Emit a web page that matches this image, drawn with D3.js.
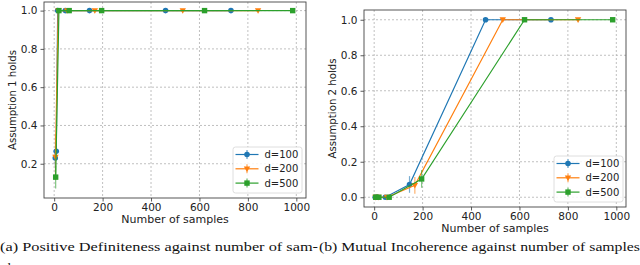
<!DOCTYPE html>
<html>
<head>
<meta charset="utf-8">
<script src="https://cdn.jsdelivr.net/npm/d3@7"></script>
<style>
  body { margin: 0; background: #fff; }
  svg { display: block; }
</style>
</head>
<body>
<div id="chart"></div>
<script>
// sample sizes per dimension (x = k * ln d)
const xs100 = [4.6, 8.5, 14.6, 46, 146, 460, 730];
const xs200 = [5.3, 16.8, 53, 168, 531, 842];
const xs500 = [6.2, 19.6, 62, 196, 621, 985];

// Assumption 1 (positive definiteness)
const a1_100 = [0.23, 0.265, 1, 1, 1, 1, 1];
const a1_200 = [0.235, 1, 1, 1, 1, 1];
const a1_500 = [0.13, 1, 1, 1, 1, 1];
const a1err_100 = [0.04, 0.04, 0, 0, 0, 0, 0];
const a1err_200 = [0.12, 0, 0, 0, 0, 0];
const a1err_500 = [0.06, 0, 0, 0, 0, 0];

// Assumption 2 (mutual incoherence)
const a2_100 = [0, 0, 0, 0, 0.072, 1, 1];
const a2_200 = [0, 0, 0, 0.067, 1, 1];
const a2_500 = [0, 0, 0, 0.103, 1, 1];
const a2err_100 = [0, 0, 0, 0, 0.047, 0, 0];
const a2err_200 = [0, 0, 0, 0.047, 0, 0];
const a2err_500 = [0, 0, 0, 0.05, 0, 0];

const xTicks = [0, 200, 400, 600, 800, 1000];
const y1Ticks = [0.2, 0.4, 0.6, 0.8, 1.0];
const y2Ticks = [0.0, 0.2, 0.4, 0.6, 0.8, 1.0];
const labels = ["d=100", "d=200", "d=500"];
const colors = ["#1f77b4", "#ff7f0e", "#2ca02c"];
const markers = ["circle", "tri", "square"];

const W = 640, H = 265;
const svg = d3.select("#chart").append("svg")
    .attr("width", W).attr("height", H)
    .attr("font-family", "DejaVu Sans, sans-serif");

function marker(g, type, x, y, color) {
    if (type == "circle") {
        g.append("circle").attr("cx", x).attr("cy", y).attr("r", 2.8).attr("fill", color);
    } else if (type == "square") {
        g.append("rect").attr("x", x - 2.7).attr("y", y - 2.7)
            .attr("width", 5.4).attr("height", 5.4).attr("fill", color);
    } else {
        g.append("path")
            .attr("d", "M" + (x - 3.2) + "," + (y - 2.4) + "L" + (x + 3.2) + "," + (y - 2.4) + "L" + x + "," + (y + 3.2) + "Z")
            .attr("fill", color);
    }
}

function drawPanel(opt) {
    const x = d3.scaleLinear().domain([-42, 1040]).range([opt.left, opt.right]);
    const y = d3.scaleLinear().domain(opt.ydom).range([opt.bottom, opt.top]);
    const g = svg.append("g");

    // grid
    g.append("g").selectAll("line").data(xTicks).enter().append("line")
        .attr("x1", d => x(d)).attr("x2", d => x(d))
        .attr("y1", opt.top).attr("y2", opt.bottom)
        .attr("stroke", "#b0b0b0").attr("stroke-width", 0.8).attr("stroke-dasharray", "2,2");
    g.append("g").selectAll("line").data(opt.yticks).enter().append("line")
        .attr("x1", opt.left).attr("x2", opt.right)
        .attr("y1", d => y(d)).attr("y2", d => y(d))
        .attr("stroke", "#b0b0b0").attr("stroke-width", 0.8).attr("stroke-dasharray", "2,2");

    // axes
    const xa = g.append("g").attr("transform", "translate(0," + opt.bottom + ")")
        .call(d3.axisBottom(x).tickValues(xTicks).tickSize(3.5).tickPadding(2).tickFormat(d3.format("d")));
    const ya = g.append("g").attr("transform", "translate(" + opt.left + ",0)")
        .call(d3.axisLeft(y).tickValues(opt.yticks).tickSize(3.5).tickPadding(3).tickFormat(d3.format(".1f")));
    [xa, ya].forEach(a => {
        a.select(".domain").remove();
        a.selectAll("text").attr("font-size", 10.5).attr("fill", "#222").attr("font-family", "DejaVu Sans, sans-serif");
        a.selectAll("line").attr("stroke", "#333").attr("stroke-width", 0.8);
    });

    g.append("rect").attr("x", opt.left).attr("y", opt.top)
        .attr("width", opt.right - opt.left).attr("height", opt.bottom - opt.top)
        .attr("fill", "none").attr("stroke", "#444").attr("stroke-width", 0.9);

    g.append("text").attr("x", (opt.left + opt.right) / 2).attr("y", opt.bottom + 25)
        .attr("text-anchor", "middle").attr("font-size", 11).attr("fill", "#222")
        .text("Number of samples");
    g.append("text")
        .attr("transform", "translate(" + (opt.left - 28) + "," + ((opt.top + opt.bottom) / 2) + ") rotate(-90)")
        .attr("text-anchor", "middle").attr("font-size", 10.2).attr("fill", "#222")
        .text(opt.ylabel);

    // series
    opt.series.forEach((s, i) => {
        const sg = g.append("g");
        const line = d3.line().x(d => x(d[0])).y(d => y(d[1]));
        const pts = s.xs.map((v, j) => [v, s.ys[j], s.err[j]]);
        sg.append("path").datum(pts).attr("d", line)
            .attr("fill", "none").attr("stroke", colors[i]).attr("stroke-width", 1.2);
        pts.forEach(p => {
            if (p[2] > 0) {
                sg.append("line").attr("x1", x(p[0])).attr("x2", x(p[0]))
                    .attr("y1", y(p[1] - p[2])).attr("y2", y(p[1] + p[2]))
                    .attr("stroke", colors[i]).attr("stroke-width", 1.2).attr("opacity", 0.6);
            }
        });
        pts.forEach(p => marker(sg, markers[i], x(p[0]), y(p[1]), colors[i]));
    });

    // legend
    const lg = g.append("g");
    lg.append("rect").attr("x", opt.leg[0]).attr("y", opt.leg[1])
        .attr("width", 69).attr("height", 46).attr("rx", 2.5)
        .attr("fill", "#fff").attr("fill-opacity", 0.85).attr("stroke", "#d6d6d6").attr("stroke-width", 0.8);
    labels.forEach((lab, i) => {
        const ly = opt.leg[1] + 7.5 + i * 14.3;
        const lx = opt.leg[0] + 2.5;
        lg.append("line").attr("x1", lx).attr("x2", lx + 23).attr("y1", ly).attr("y2", ly)
            .attr("stroke", colors[i]).attr("stroke-width", 1.2);
        lg.append("line").attr("x1", lx + 11.5).attr("x2", lx + 11.5).attr("y1", ly - 4.5).attr("y2", ly + 4.5)
            .attr("stroke", colors[i]).attr("stroke-width", 1.2).attr("opacity", 0.7);
        marker(lg, markers[i], lx + 11.5, ly, colors[i]);
        lg.append("text").attr("x", lx + 29).attr("y", ly + 3.6)
            .attr("font-size", 10).attr("fill", "#222").text(lab);
    });
}

drawPanel({
    left: 44, right: 306, top: 2, bottom: 198, ydom: [0.021, 1.045],
    yticks: y1Ticks, ylabel: "Assumption 1 holds", leg: [233, 147],
    series: [
        {xs: xs100, ys: a1_100, err: a1err_100},
        {xs: xs200, ys: a1_200, err: a1err_200},
        {xs: xs500, ys: a1_500, err: a1err_500}
    ]
});
drawPanel({
    left: 364, right: 626, top: 10, bottom: 207, ydom: [-0.055, 1.055],
    yticks: y2Ticks, ylabel: "Assumption 2 holds", leg: [554, 156],
    series: [
        {xs: xs100, ys: a2_100, err: a2err_100},
        {xs: xs200, ys: a2_200, err: a2err_200},
        {xs: xs500, ys: a2_500, err: a2err_500}
    ]
});

// captions
const cap = svg.append("g").attr("font-family", "'Liberation Serif', 'DejaVu Serif', serif")
    .attr("font-size", 13).attr("fill", "#111");
cap.append("text").attr("x", 0).attr("y", 251).attr("textLength", 318).attr("lengthAdjust", "spacingAndGlyphs")
    .text("(a) Positive Definiteness against number of sam-");
cap.append("text").attr("x", 1).attr("y", 272).text("ples");
cap.append("text").attr("x", 319).attr("y", 251).attr("textLength", 321).attr("lengthAdjust", "spacingAndGlyphs")
    .text("(b) Mutual Incoherence against number of samples");
</script>
</body>
</html>
